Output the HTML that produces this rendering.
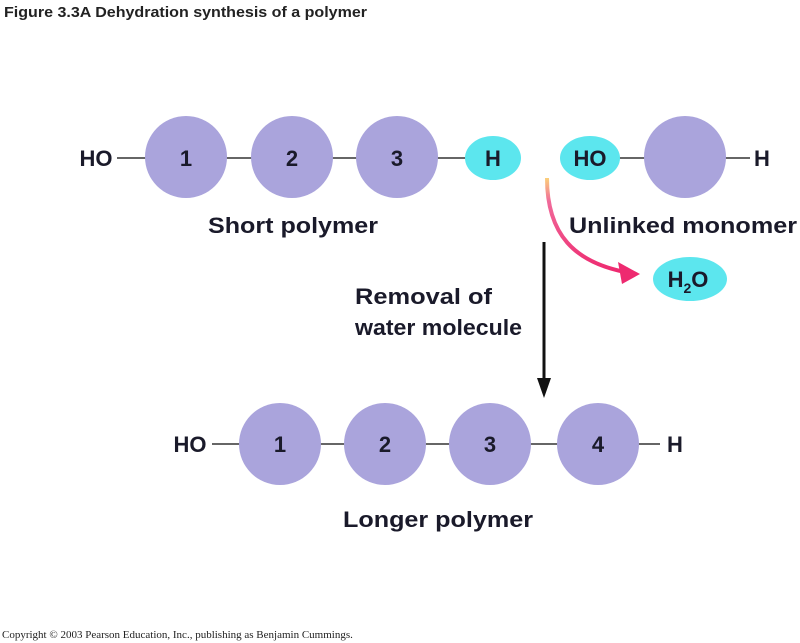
<!DOCTYPE html>
<html><head><style>
body{margin:0;background:#fff;}
svg{display:block;font-family:"Liberation Sans",Arial,sans-serif;font-weight:bold;}
</style></head><body>
<svg width="800" height="643" viewBox="0 0 800 643">
<defs>
<linearGradient id="pg" x1="0" y1="0" x2="0" y2="1">
<stop offset="0" stop-color="#fbd07a"/><stop offset="0.25" stop-color="#f06a9a"/><stop offset="1" stop-color="#ee2a70"/>
</linearGradient>
</defs>
<text x="4" y="17" font-size="15" fill="#222" textLength="363" lengthAdjust="spacingAndGlyphs">Figure 3.3A  Dehydration synthesis of a polymer</text>
<g stroke="#333" stroke-width="1.5">
<line x1="117" y1="158" x2="470" y2="158"/>
<line x1="615" y1="158" x2="750" y2="158"/>
<line x1="212" y1="444" x2="660" y2="444"/>
</g>
<g fill="#aaa4dc">
<circle cx="186" cy="157" r="41"/><circle cx="292" cy="157" r="41"/><circle cx="397" cy="157" r="41"/>
<circle cx="685" cy="157" r="41"/>
<circle cx="280" cy="444" r="41"/><circle cx="385" cy="444" r="41"/><circle cx="490" cy="444" r="41"/><circle cx="598" cy="444" r="41"/>
</g>
<g fill="#5ce6ee">
<ellipse cx="493" cy="158" rx="28" ry="22"/>
<ellipse cx="590" cy="158" rx="30" ry="22"/>
<ellipse cx="690" cy="279" rx="37" ry="22"/>
</g>
<g font-size="22" fill="#1a1a2a" text-anchor="middle">
<text x="96" y="166">HO</text>
<text x="186" y="166">1</text><text x="292" y="166">2</text><text x="397" y="166">3</text>
<text x="493" y="166">H</text>
<text x="590" y="166">HO</text>
<text x="762" y="166">H</text>
<text x="190" y="452">HO</text>
<text x="280" y="452">1</text><text x="385" y="452">2</text><text x="490" y="452">3</text><text x="598" y="452">4</text>
<text x="675" y="452">H</text>
<text x="688" y="287">H<tspan font-size="14" dy="6">2</tspan><tspan dy="-6">O</tspan></text>
</g>
<g font-size="22" fill="#1a1a2a" lengthAdjust="spacingAndGlyphs">
<text x="208" y="233" textLength="170" lengthAdjust="spacingAndGlyphs">Short polymer</text>
<text x="569" y="233" textLength="228" lengthAdjust="spacingAndGlyphs">Unlinked monomer</text>
<text x="355" y="304" textLength="137" lengthAdjust="spacingAndGlyphs">Removal of</text>
<text x="355" y="335" textLength="167" lengthAdjust="spacingAndGlyphs">water molecule</text>
<text x="343" y="527" textLength="190" lengthAdjust="spacingAndGlyphs">Longer polymer</text>
</g>
<line x1="544" y1="242" x2="544" y2="382" stroke="#111" stroke-width="3"/>
<polygon points="537,378 551,378 544,398" fill="#111"/>
<path d="M547,178 C547,235 575,262 625,272" fill="none" stroke="url(#pg)" stroke-width="4"/>
<polygon points="640,274 618,262 622,284" fill="#ee2a70"/>
<text x="2" y="638" font-size="11" font-weight="normal" fill="#222" font-family="Liberation Serif,serif">Copyright © 2003 Pearson Education, Inc., publishing as Benjamin Cummings.</text>
</svg>
</body></html>
